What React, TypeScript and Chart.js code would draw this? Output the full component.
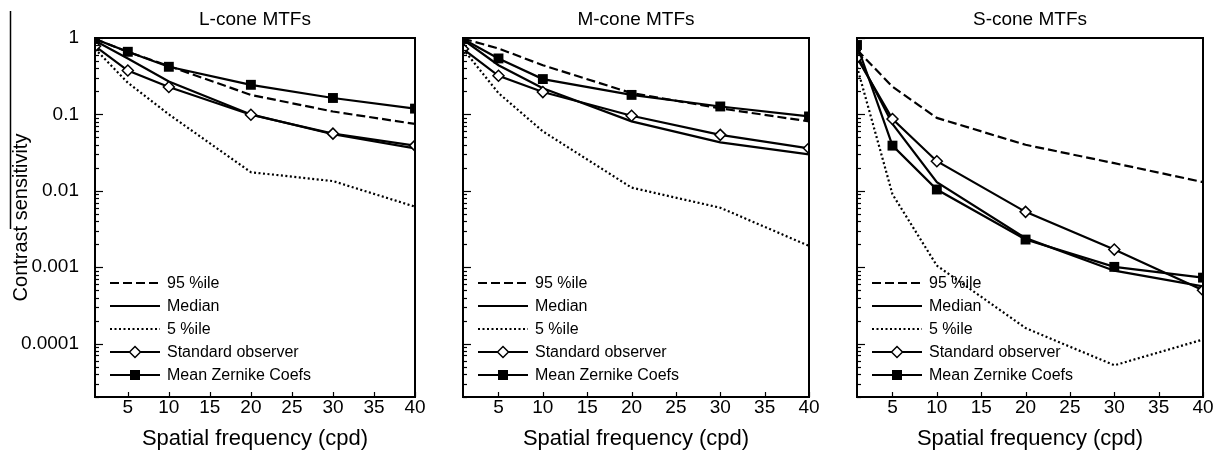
import React, { useEffect, useRef } from 'react';
import { Chart, registerables } from 'chart.js';

Chart.register(...registerables);

const FONT = '"Liberation Sans", Arial, Helvetica, sans-serif';

// Spatial frequencies (cpd)
const FREQ = [1, 5, 10, 20, 30, 40];
const X_TICKS = [5, 10, 15, 20, 25, 30, 35, 40];
const Y_TICKS = [1, 0.1, 0.01, 0.001, 0.0001];
const LEGEND_LABELS = ['95 %ile', 'Median', '5 %ile', 'Standard observer', 'Mean Zernike Coefs'];

// L-cone
const L_P95 = [0.97, 0.66, 0.43, 0.18, 0.109, 0.075];
const L_MED = [0.92, 0.54, 0.27, 0.1, 0.055, 0.036];
const L_P5 = [0.72, 0.26, 0.1, 0.0175, 0.0134, 0.0062];
const L_STD = [0.78, 0.375, 0.228, 0.099, 0.056, 0.039];
const L_ZER = [0.97, 0.66, 0.42, 0.244, 0.164, 0.119];

// M-cone
const M_P95 = [0.98, 0.73, 0.44, 0.19, 0.12, 0.081];
const M_MED = [0.95, 0.44, 0.22, 0.081, 0.043, 0.03];
const M_P5 = [0.72, 0.19, 0.06, 0.011, 0.006, 0.0019];
const M_STD = [0.72, 0.32, 0.196, 0.096, 0.054, 0.036];
const M_ZER = [0.97, 0.54, 0.29, 0.18, 0.127, 0.094];

// S-cone
const S_P95 = [0.7, 0.23, 0.09, 0.04, 0.023, 0.013];
const S_MED = [0.6, 0.075, 0.013, 0.0024, 0.0009, 0.00056];
const S_P5 = [0.42, 0.009, 0.00105, 0.00016, 0.000052, 0.000113];
const S_STD = [0.55, 0.087, 0.0244, 0.0053, 0.0017, 0.0005];
const S_ZER = [0.81, 0.039, 0.0104, 0.0023, 0.00101, 0.00073];

const Y_MIN = 2e-5;
const Y_MAX = 1;

const DASH_95 = [9, 4];
const DASH_5 = [2, 2.5];

function pts(vals: number[]) {
  return vals.map((v, i) => ({ x: FREQ[i], y: v }));
}

function drawDiamond(ctx: CanvasRenderingContext2D, x: number, y: number, r: number) {
  ctx.beginPath();
  ctx.moveTo(x - r, y);
  ctx.lineTo(x, y - r);
  ctx.lineTo(x + r, y);
  ctx.lineTo(x, y + r);
  ctx.closePath();
  ctx.fillStyle = '#fff';
  ctx.fill();
  ctx.lineWidth = 1.5;
  ctx.strokeStyle = '#000';
  ctx.stroke();
}

const decor = {
  id: 'decor',
  afterDraw(chart: any) {
    const ctx: CanvasRenderingContext2D = chart.ctx;
    const { left, right, top, bottom } = chart.chartArea;
    const ys = chart.scales.y;
    const xs = chart.scales.x;
    const opts = chart.options.plugins.decor;
    ctx.save();
    // y ticks (inside)
    ctx.strokeStyle = '#000';
    ctx.lineWidth = 1.2;
    for (let e = -5; e <= 0; e++) {
      for (let k = 1; k <= 9; k++) {
        const v = k * Math.pow(10, e);
        if (v < Y_MIN * 0.999 || v > Y_MAX * 1.001) continue;
        const py = Math.round(ys.getPixelForValue(v)) + 0.5;
        const len = k === 1 ? 8 : 4;
        ctx.beginPath();
        ctx.moveTo(left, py);
        ctx.lineTo(left + len, py);
        ctx.stroke();
      }
    }
    // x ticks (inside)
    for (const v of X_TICKS) {
      const px = Math.round(xs.getPixelForValue(v)) + 0.5;
      ctx.beginPath();
      ctx.moveTo(px, bottom);
      ctx.lineTo(px, bottom - 5);
      ctx.stroke();
    }
    // frame
    ctx.lineWidth = 2;
    ctx.strokeRect(left, top, right - left, bottom - top);
    // title
    ctx.fillStyle = '#000';
    ctx.font = `19px ${FONT}`;
    ctx.textAlign = 'center';
    ctx.textBaseline = 'middle';
    ctx.fillText(opts.title, (left + right) / 2, 20);
    // legend
    ctx.font = `16px ${FONT}`;
    ctx.textAlign = 'left';
    const x0 = left + 15;
    const x1 = left + 65;
    const xm = (x0 + x1) / 2;
    LEGEND_LABELS.forEach((lab, i) => {
      const y = bottom - 114 + i * 23;
      ctx.lineWidth = 2.2;
      ctx.strokeStyle = '#000';
      ctx.setLineDash(i === 0 ? DASH_95 : i === 2 ? DASH_5 : []);
      ctx.beginPath();
      ctx.moveTo(x0, y);
      ctx.lineTo(x1, y);
      ctx.stroke();
      ctx.setLineDash([]);
      if (i === 3) drawDiamond(ctx, xm, y, 5.5);
      if (i === 4) {
        ctx.fillStyle = '#000';
        ctx.fillRect(xm - 5, y - 5, 10, 10);
      }
      ctx.fillStyle = '#000';
      ctx.fillText(lab, left + 72, y + 1);
    });
    // stray crop line
    if (opts.stray) {
      ctx.lineWidth = 1.5;
      ctx.beginPath();
      ctx.moveTo(10.5, 11);
      ctx.lineTo(10.5, 229);
      ctx.stroke();
    }
    ctx.restore();
  },
};

type PanelProps = {
  left: number;
  width: number;
  yWidth: number;
  padRight: number;
  title: string;
  showY: boolean;
  stray: boolean;
  p95: number[];
  med: number[];
  p5: number[];
  std: number[];
  zer: number[];
};

function Panel(props: PanelProps) {
  const ref = useRef<HTMLCanvasElement>(null);
  useEffect(() => {
    const base = { borderColor: '#000', borderWidth: 2.2, tension: 0, fill: false };
    const chart = new Chart(ref.current as HTMLCanvasElement, {
      type: 'line',
      data: {
        datasets: [
          { ...base, label: 'Mean Zernike Coefs', data: pts(props.zer), pointStyle: 'rect', pointRadius: 7, pointBackgroundColor: '#000', pointBorderColor: '#000', pointBorderWidth: 0 },
          { ...base, label: 'Standard observer', data: pts(props.std), pointStyle: 'rectRot', pointRadius: 5.5, pointBackgroundColor: '#fff', pointBorderColor: '#000', pointBorderWidth: 1.5 },
          { ...base, label: '95 %ile', data: pts(props.p95), borderDash: DASH_95, pointRadius: 0 },
          { ...base, label: 'Median', data: pts(props.med), pointRadius: 0 },
          { ...base, label: '5 %ile', data: pts(props.p5), borderDash: DASH_5, pointRadius: 0 },
        ] as any,
      },
      options: {
        animation: false,
        responsive: false,
        events: [],
        layout: { padding: { top: 38, right: props.padRight, left: 0, bottom: 0 } },
        plugins: {
          legend: { display: false },
          tooltip: { enabled: false },
          decor: { title: props.title, stray: props.stray },
        } as any,
        scales: {
          x: {
            type: 'linear',
            min: 1,
            max: 40,
            grid: { display: false },
            border: { display: false },
            afterBuildTicks: (s: any) => {
              s.ticks = X_TICKS.map((v) => ({ value: v }));
            },
            afterFit: (s: any) => {
              s.height = 55;
            },
            ticks: {
              autoSkip: false,
              maxRotation: 0,
              padding: -9,
              color: '#000',
              font: { family: FONT, size: 19 },
              callback: (v: any) => String(v),
            },
            title: {
              display: true,
              text: 'Spatial frequency (cpd)',
              color: '#000',
              font: { family: FONT, size: 22 },
              padding: { top: -3, bottom: 0 },
            },
          },
          y: {
            type: 'logarithmic',
            min: Y_MIN,
            max: Y_MAX,
            grid: { display: false },
            border: { display: false },
            afterBuildTicks: (s: any) => {
              s.ticks = Y_TICKS.map((v) => ({ value: v }));
            },
            afterFit: (s: any) => {
              s.width = props.yWidth;
            },
            ticks: {
              display: props.showY,
              autoSkip: false,
              padding: 8,
              color: '#000',
              font: { family: FONT, size: 19 },
              callback: (v: any) => String(v),
            },
            title: {
              display: props.showY,
              text: 'Contrast sensitivity',
              color: '#000',
              font: { family: FONT, size: 20 },
              padding: { top: 9, bottom: 0 },
            },
          },
        },
      } as any,
      plugins: [decor],
    });
    return () => chart.destroy();
  }, []);
  return (
    <div style={{ position: 'absolute', left: props.left, top: 0, width: props.width, height: 452 }}>
      <canvas ref={ref} width={props.width} height={452} style={{ display: 'block', width: props.width, height: 452 }} />
    </div>
  );
}

export default function App() {
  return (
    <div style={{ position: 'fixed', left: 0, top: 0, width: 1214, height: 452, background: '#fff', overflow: 'hidden' }}>
      <Panel left={0} width={430} yWidth={95} padRight={15} title="L-cone MTFs" showY={true} stray={true}
        p95={L_P95} med={L_MED} p5={L_P5} std={L_STD} zer={L_ZER} />
      <Panel left={430} width={400} yWidth={33} padRight={21} title="M-cone MTFs" showY={false} stray={false}
        p95={M_P95} med={M_MED} p5={M_P5} std={M_STD} zer={M_ZER} />
      <Panel left={830} width={384} yWidth={27} padRight={11} title="S-cone MTFs" showY={false} stray={false}
        p95={S_P95} med={S_MED} p5={S_P5} std={S_STD} zer={S_ZER} />
    </div>
  );
}
